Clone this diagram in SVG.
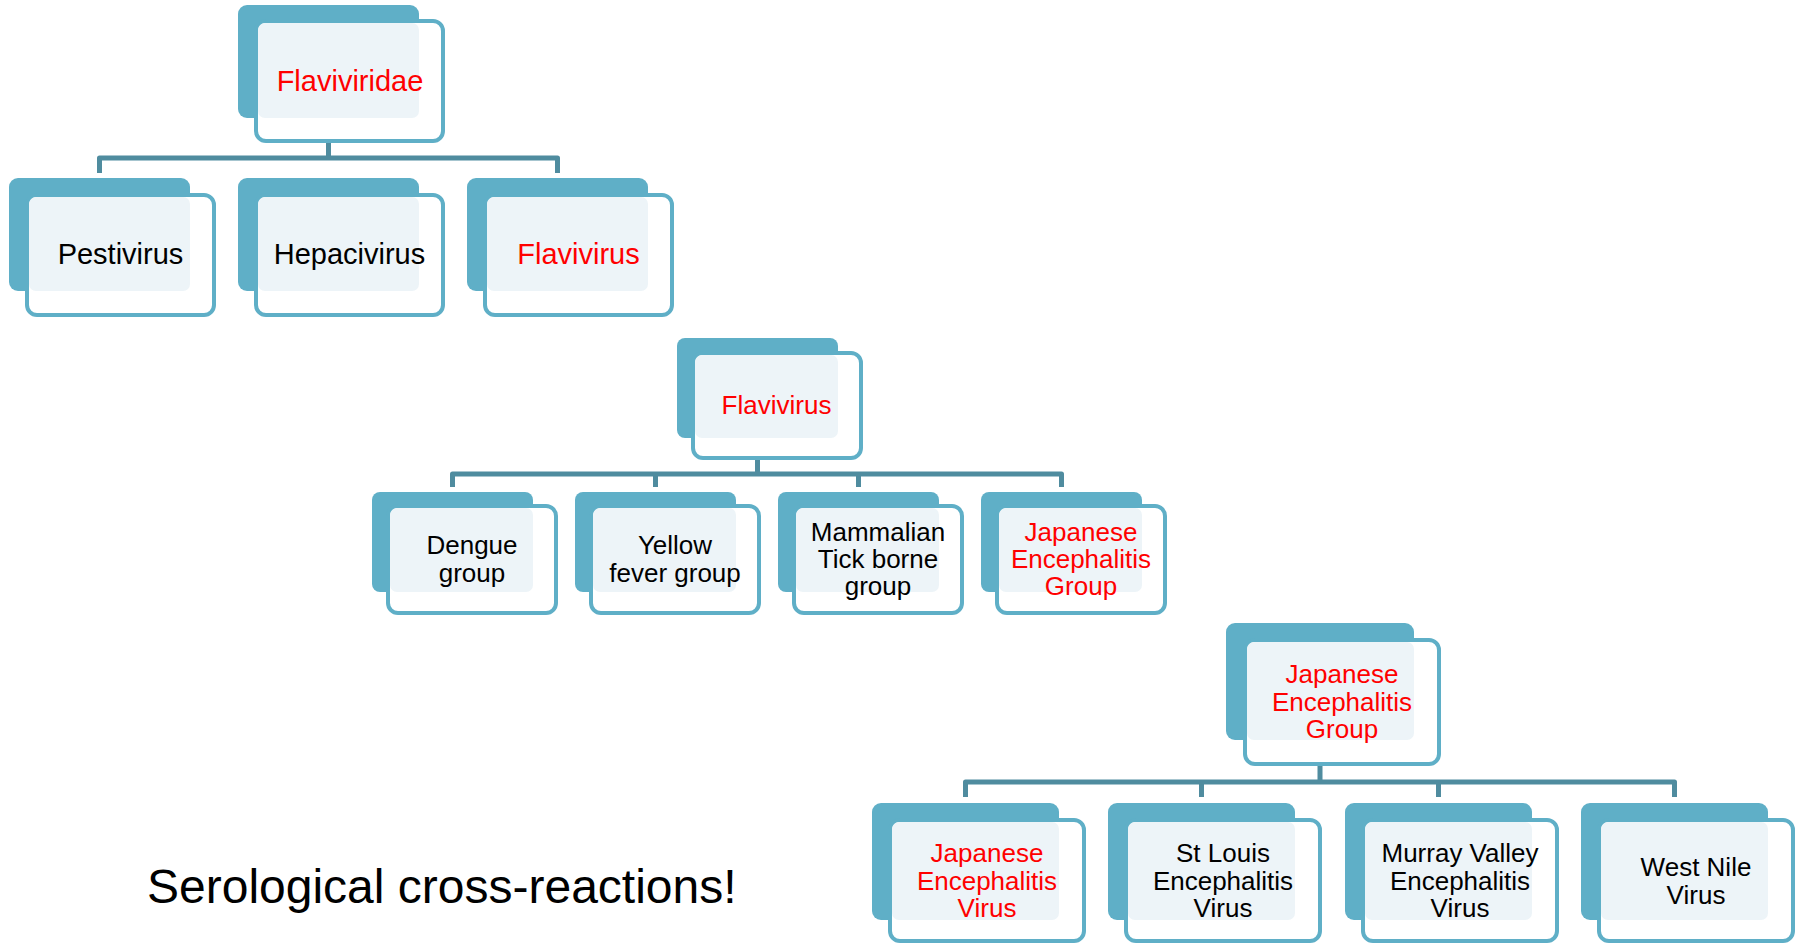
<svg xmlns="http://www.w3.org/2000/svg" width="1799" height="943" viewBox="0 0 1799 943">
<style>
.bk{fill:#5fafc7}
.fr{fill:#ffffff;stroke:#5fafc7;stroke-width:4}
.pn{fill:#edf4f8}
.conn{fill:none;stroke:#4f8c9f;stroke-width:5;stroke-linejoin:round}
.stub{stroke:#e4eef2;stroke-width:6}
text{font-family:"Liberation Sans",Arial,sans-serif;text-anchor:middle;fill:#000}
.l1{font-size:29px}
.l2{font-size:26px}
.red{fill:#ff0000}
</style>
<rect width="1799" height="943" fill="#ffffff"/>
<g id="connectors">
<path class="conn" d="M99.5,173V158H557.5V173M328.5,143V158"/>
<line class="stub" x1="328.5" y1="118" x2="328.5" y2="141"/>
<path class="conn" d="M452.5,487V474H1061.5V487M655.5,474V487M858.5,474V487M757.5,460V474"/>
<line class="stub" x1="757.5" y1="438" x2="757.5" y2="458"/>
<path class="conn" d="M965.5,797V782H1674.5V797M1201.5,782V797M1438.5,782V797M1320,766V782"/>
<line class="stub" x1="1320" y1="740" x2="1320" y2="764"/>
</g>
<g id="n-flaviviridae">
<rect class="bk" x="238" y="5" width="181" height="113" rx="9"/>
<rect class="fr" x="256" y="21" width="187" height="120" rx="10"/>
<rect class="pn" x="258" y="23" width="161" height="95" rx="7"/>
<text class="l1 red" x="350" y="91">Flaviviridae</text>
</g>
<g id="n-pestivirus">
<rect class="bk" x="9" y="178" width="181" height="113" rx="9"/>
<rect class="fr" x="27" y="195" width="187" height="120" rx="10"/>
<rect class="pn" x="29" y="197" width="161" height="94" rx="7"/>
<text class="l1" x="120.5" y="264">Pestivirus</text>
</g>
<g id="n-hepacivirus">
<rect class="bk" x="238" y="178" width="181" height="113" rx="9"/>
<rect class="fr" x="256" y="195" width="187" height="120" rx="10"/>
<rect class="pn" x="258" y="197" width="161" height="94" rx="7"/>
<text class="l1" x="349.5" y="264">Hepacivirus</text>
</g>
<g id="n-flavivirus1">
<rect class="bk" x="467" y="178" width="181" height="113" rx="9"/>
<rect class="fr" x="485" y="195" width="187" height="120" rx="10"/>
<rect class="pn" x="487" y="197" width="161" height="94" rx="7"/>
<text class="l1 red" x="578.5" y="264">Flavivirus</text>
</g>
<g id="n-flavivirus2">
<rect class="bk" x="677" y="338" width="161" height="100" rx="8"/>
<rect class="fr" x="693" y="353" width="168" height="105" rx="10"/>
<rect class="pn" x="695" y="355" width="143" height="83" rx="7"/>
<text class="l2 red" x="776.5" y="414">Flavivirus</text>
</g>
<g id="n-dengue">
<rect class="bk" x="372" y="492" width="161" height="100" rx="8"/>
<rect class="fr" x="388" y="506" width="168" height="107" rx="10"/>
<rect class="pn" x="390" y="508" width="143" height="84" rx="7"/>
<text class="l2" x="472" y="554">Dengue</text>
<text class="l2" x="472" y="582">group</text>
</g>
<g id="n-yellowfever">
<rect class="bk" x="575" y="492" width="161" height="100" rx="8"/>
<rect class="fr" x="591" y="506" width="168" height="107" rx="10"/>
<rect class="pn" x="593" y="508" width="143" height="84" rx="7"/>
<text class="l2" x="675" y="554">Yellow</text>
<text class="l2" x="675" y="582">fever group</text>
</g>
<g id="n-tickborne">
<rect class="bk" x="778" y="492" width="161" height="100" rx="8"/>
<rect class="fr" x="794" y="506" width="168" height="107" rx="10"/>
<rect class="pn" x="796" y="508" width="143" height="84" rx="7"/>
<text class="l2" x="878" y="541">Mammalian</text>
<text class="l2" x="878" y="568">Tick borne</text>
<text class="l2" x="878" y="595">group</text>
</g>
<g id="n-jegroup2">
<rect class="bk" x="981" y="492" width="161" height="100" rx="8"/>
<rect class="fr" x="997" y="506" width="168" height="107" rx="10"/>
<rect class="pn" x="999" y="508" width="143" height="84" rx="7"/>
<text class="l2 red" x="1081" y="541">Japanese</text>
<text class="l2 red" x="1081" y="568">Encephalitis</text>
<text class="l2 red" x="1081" y="595">Group</text>
</g>
<g id="n-jegroup3">
<rect class="bk" x="1226" y="623" width="188" height="117" rx="9"/>
<rect class="fr" x="1245" y="640" width="194" height="124" rx="10"/>
<rect class="pn" x="1247" y="642" width="167" height="98" rx="7"/>
<text class="l2 red" x="1342" y="683">Japanese</text>
<text class="l2 red" x="1342" y="711">Encephalitis</text>
<text class="l2 red" x="1342" y="738">Group</text>
</g>
<g id="n-jev">
<rect class="bk" x="872" y="803" width="187" height="117" rx="9"/>
<rect class="fr" x="890" y="820" width="194" height="121" rx="10"/>
<rect class="pn" x="892" y="822" width="167" height="98" rx="7"/>
<text class="l2 red" x="987" y="862">Japanese</text>
<text class="l2 red" x="987" y="890">Encephalitis</text>
<text class="l2 red" x="987" y="917">Virus</text>
</g>
<g id="n-stlouis">
<rect class="bk" x="1108" y="803" width="187" height="117" rx="9"/>
<rect class="fr" x="1126" y="820" width="194" height="121" rx="10"/>
<rect class="pn" x="1128" y="822" width="167" height="98" rx="7"/>
<text class="l2" x="1223" y="862">St Louis</text>
<text class="l2" x="1223" y="890">Encephalitis</text>
<text class="l2" x="1223" y="917">Virus</text>
</g>
<g id="n-murray">
<rect class="bk" x="1345" y="803" width="187" height="117" rx="9"/>
<rect class="fr" x="1363" y="820" width="194" height="121" rx="10"/>
<rect class="pn" x="1365" y="822" width="167" height="98" rx="7"/>
<text class="l2" x="1460" y="862">Murray Valley</text>
<text class="l2" x="1460" y="890">Encephalitis</text>
<text class="l2" x="1460" y="917">Virus</text>
</g>
<g id="n-westnile">
<rect class="bk" x="1581" y="803" width="187" height="117" rx="9"/>
<rect class="fr" x="1599" y="820" width="194" height="121" rx="10"/>
<rect class="pn" x="1601" y="822" width="167" height="98" rx="7"/>
<text class="l2" x="1696" y="876">West Nile</text>
<text class="l2" x="1696" y="904">Virus</text>
</g>
<text x="147" y="903" font-size="48" style="text-anchor:start">Serological cross-reactions!</text>
</svg>
